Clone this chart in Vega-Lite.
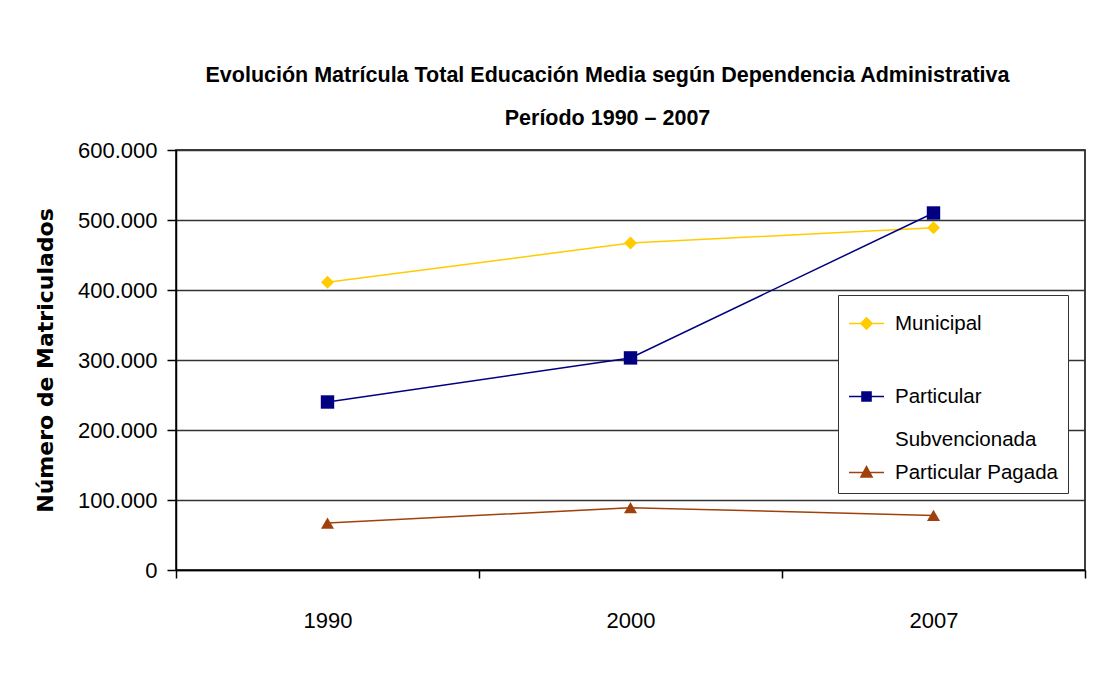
{
  "$schema": "https://vega.github.io/schema/vega-lite/v6.json",
  "width": 909,
  "height": 420,
  "autosize": {"type": "none"},
  "padding": {"left": 176, "top": 150, "right": 25, "bottom": 103},
  "background": "#ffffff",
  "title": {
    "text": ["Evolución Matrícula Total Educación Media según Dependencia Administrativa", "Período 1990 – 2007"],
    "font": "Liberation Sans",
    "fontSize": 21.5,
    "fontWeight": "bold",
    "lineHeight": 43,
    "anchor": "middle",
    "dx": -23,
    "offset": 10,
    "color": "#000000"
  },
  "config": {
    "locale": {"number": {"decimal": ",", "thousands": ".", "grouping": [3], "currency": ["$", ""]}},
    "view": {"stroke": "#000000", "strokeWidth": 1.5}
  },
  "data": {
    "values": [
      {"year": "1990", "serie": "Municipal", "valor": 411000},
      {"year": "2000", "serie": "Municipal", "valor": 467000},
      {"year": "2007", "serie": "Municipal", "valor": 489000},
      {"year": "1990", "serie": "Particular Subvencionada", "valor": 240000},
      {"year": "2000", "serie": "Particular Subvencionada", "valor": 303000},
      {"year": "2007", "serie": "Particular Subvencionada", "valor": 510000},
      {"year": "1990", "serie": "Particular Pagada", "valor": 67000},
      {"year": "2000", "serie": "Particular Pagada", "valor": 89000},
      {"year": "2007", "serie": "Particular Pagada", "valor": 78000}
    ]
  },
  "encoding": {
    "x": {
      "field": "year",
      "type": "nominal",
      "sort": ["1990", "2000", "2007"],
      "scale": {"type": "band", "paddingInner": 0, "paddingOuter": 0},
      "axis": {
        "title": null,
        "labelAngle": 0,
        "tickBand": "extent",
        "tickSize": 8,
        "tickColor": "#000000",
        "tickWidth": 1.5,
        "domainColor": "#000000",
        "domainWidth": 1.5,
        "labelPadding": 32,
        "labelFont": "Liberation Sans",
        "labelFontSize": 22,
        "labelColor": "#000000"
      }
    },
    "y": {
      "field": "valor",
      "type": "quantitative",
      "scale": {"domain": [0, 600000], "nice": false},
      "axis": {
        "title": "Número de Matriculados",
        "values": [0, 100000, 200000, 300000, 400000, 500000, 600000],
        "format": ",d",
        "tickSize": 9,
        "tickColor": "#000000",
        "tickWidth": 1.5,
        "domainColor": "#000000",
        "domainWidth": 1.5,
        "gridColor": "#333333",
        "gridWidth": 1.5,
        "labelPadding": 10,
        "labelFont": "Liberation Sans",
        "labelFontSize": 22,
        "labelColor": "#000000",
        "titleFont": "DejaVu Sans",
        "titleFontSize": 22,
        "titleFontWeight": "bold",
        "titleColor": "#000000",
        "titlePadding": 20
      }
    },
    "color": {
      "field": "serie",
      "type": "nominal",
      "scale": {
        "domain": ["Municipal", "Particular Subvencionada", "Particular Pagada"],
        "range": ["#ffcc00", "#000080", "#a0410d"]
      },
      "legend": {
        "orient": "none",
        "legendX": 662,
        "legendY": 145,
        "title": null,
        "strokeColor": "#333333",
        "fillColor": "#ffffff",
        "padding": 10,
        "labelFont": "Liberation Sans",
        "labelFontSize": 20.5,
        "labelColor": "#000000",
        "labelLimit": 300,
        "labelOffset": 10,
        "symbolSize": 1225,
        "rowPadding": 4,
        "labelExpr": "datum.label == 'Particular Subvencionada' ? ['Particular', 'Subvencionada'] : datum.label",
        "encode": {
          "labels": {
            "update": {
              "lineHeight": {"value": 43}
            }
          },
          "symbols": {
            "update": {
              "shape": {"signal": "datum.value == 'Municipal' ? 'M-1,0L1,0M0,-0.32L0.32,0L0,0.32L-0.32,0ZM0,2.69' : (datum.value == 'Particular Pagada' ? 'M-1,0L1,0M0,-0.34L0.32,0.26L-0.32,0.26Z' : 'M-1,0L1,0M-0.26,-0.26L0.26,-0.26L0.26,0.26L-0.26,0.26Z')"},
              "fill": {"signal": "scale('color', datum.value)"},
              "stroke": {"signal": "scale('color', datum.value)"},
              "strokeWidth": {"value": 1.5},
              "opacity": {"value": 1}
            }
          }
        }
      }
    }
  },
  "layer": [
    {"mark": {"type": "line", "strokeWidth": 1.5}},
    {
      "transform": [{"filter": "datum.serie == 'Municipal'"}],
      "mark": {"type": "point", "filled": true, "size": 170, "opacity": 1, "shape": "diamond"}
    },
    {
      "transform": [{"filter": "datum.serie == 'Particular Subvencionada'"}],
      "mark": {"type": "point", "filled": true, "size": 180, "opacity": 1, "shape": "square"}
    },
    {
      "transform": [{"filter": "datum.serie == 'Particular Pagada'"}],
      "mark": {"type": "point", "filled": true, "size": 170, "opacity": 1, "shape": "triangle-up"}
    }
  ]
}
